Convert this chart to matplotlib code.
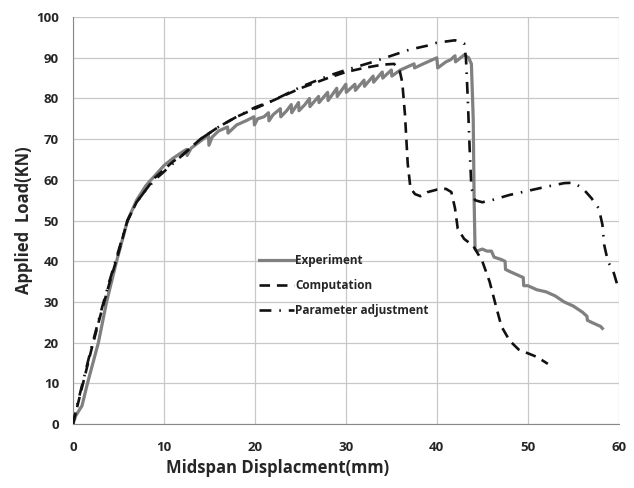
import matplotlib
matplotlib.use("Agg")
import matplotlib.pyplot as plt

# Experiment (gray solid, with the small load drops)
exp_x = [0, 0.3, 1, 1.6, 2.2, 2.8, 3.7, 4.8, 6, 7, 8, 8.5, 9, 10, 11, 12, 12.5, 12.55, 13, 14,
         14.9, 14.95, 15.3, 16, 17, 17.05, 18, 19, 19.9, 19.95, 20.3, 21, 21.5, 21.55, 22,
         22.8, 22.85, 23.5, 24, 24.05, 24.8, 24.85, 25.5, 26, 26.05, 27, 27.05, 28, 28.05,
         29, 29.05, 30, 30.05, 31, 31.05, 32, 32.05, 33, 33.05, 34, 34.05, 35, 35.05, 36,
         37, 37.5, 37.55, 38.5, 39, 40, 40.1, 41, 41.5, 42, 42.05, 43, 43.5, 43.8, 44.0,
         44.1, 44.2, 44.4, 45, 45.5, 46, 46.3, 47, 47.5, 47.55, 48, 49, 49.5, 49.55, 50,
         51, 52, 53, 54, 55, 56, 56.5, 56.55, 57, 57.5, 58, 58.2]
exp_y = [0, 2, 4.5, 10, 15, 20, 30, 40, 50, 55, 58.5, 59.8, 61, 63.5, 65.3, 66.8, 67.5, 66, 67.8, 69.5,
         71, 68.5, 70.5, 72, 73, 71.5, 73.5, 74.5, 75.5, 73.5, 75, 75.5, 76.5, 74.5, 76,
         77.5, 75.5, 77, 78.5, 76.5, 79, 77, 78.5, 80, 78, 80.5, 79, 81.5, 79.5,
         82.5, 80.5, 83.5, 81.5, 83.5, 82, 84.5, 83, 85.5, 84, 86.5, 85, 87, 85.5, 87,
         88, 88.5, 87.5, 88.5, 89, 90, 87.5, 89, 89.5, 90.5, 89, 90.7, 90, 88.5, 75,
         55, 43, 42.5, 43, 42.5, 42.5, 41, 40.5, 40, 38, 37.5, 36.5, 36, 34, 34,
         33, 32.5, 31.5, 30, 29, 27.5, 26.5, 25.5, 25, 24.5, 24, 23.5]

# Computation (black dashed)
comp_x = [0, 0.5, 1, 2, 3, 4, 5, 6, 7, 8, 9, 10, 11, 12, 13, 14, 15, 16, 18, 20, 22, 25,
          28, 30, 32, 34, 35.3, 35.9, 36.2, 36.5, 36.8, 37.1, 37.6, 38.2, 39, 40, 41, 41.6,
          42, 42.3, 43, 44, 45, 45.8, 46.5, 47.1, 48, 49, 50, 51, 52.2]
comp_y = [0, 4.5, 9, 18, 26.5, 34.5, 42, 50, 54.5, 57.5, 60.5, 62.5, 64.5, 66, 68, 70, 71.5, 73,
          75.5, 77.5, 79.5, 82.5, 85, 86.5, 87.5, 88.3, 88.5, 87, 84, 76, 64, 58, 56.5, 56,
          57, 57.6, 57.8, 57, 53, 48, 45.5, 43.8, 40, 35, 29, 24, 20.5, 18.3, 17.4, 16.5, 14.8]

# Parameter adjustment (black dash-dot)
par_x = [0, 0.5, 1, 2, 3, 4, 5, 6, 7, 8, 9, 10, 11, 12, 13, 14, 15, 16, 18, 20, 22, 25, 28,
         30, 33, 35, 37, 39, 40, 41, 42, 43, 43.2, 43.4, 43.6, 43.8, 44.2, 45, 46, 48, 50,
         52, 54, 55, 56, 57, 57.8, 58.2, 58.4, 58.8, 59.4, 60]
par_y = [0, 5, 9.5, 18.5, 27, 35, 42.5, 50, 54.5, 57.5, 60, 62, 64, 66, 68, 70, 71.5, 73, 75.5,
         77.8, 79.5, 82.8, 85.5, 87, 89, 90.5, 92, 93, 93.7, 94, 94.3, 93.5, 90, 80, 68, 58,
         55, 54.5, 55, 56.3, 57.3, 58.3, 59.2, 59.3, 58, 55.5, 53, 49, 44, 40, 37.5, 33]

plt.rcParams['font.family'] = ['Open Sans', 'DejaVu Sans']
plt.rcParams['font.weight'] = 'bold'
txt = '#262626'

fig = plt.figure(figsize=(6.34, 4.88), dpi=100)
ax = fig.add_axes([0.115, 0.131, 0.861, 0.834])

ax.plot(exp_x, exp_y, color='#808080', lw=2.3, label='Experiment', zorder=3)
ax.plot(comp_x, comp_y, color='#111111', lw=1.9, linestyle=(0, (4, 2.6)),
        label='Computation', zorder=4)
ax.plot(par_x, par_y, color='#111111', lw=1.9, linestyle=(0, (4.5, 3, 0.6, 3)),
        label='Parameter adjustment', zorder=4)

ax.set_xlim(0, 60)
ax.set_ylim(0, 100)
ax.set_xticks(range(0, 61, 10))
ax.set_yticks(range(0, 101, 10))
ax.grid(True, color='#c8c8c8', lw=0.9)
ax.set_axisbelow(True)
for s in ['top', 'right']:
    ax.spines[s].set_visible(False)
for s in ['left', 'bottom']:
    ax.spines[s].set_color('#888888')
ax.tick_params(axis='x', length=0, labelsize=9.5, pad=12, labelcolor=txt)
ax.tick_params(axis='y', length=0, labelsize=9.5, pad=10, labelcolor=txt)
for lab in ax.get_xticklabels() + ax.get_yticklabels():
    lab.set_fontweight('bold')

ax.set_xlabel('Midspan Displacment(mm)', fontsize=12, fontweight='bold', color=txt)
ax.xaxis.set_label_coords(0.374, -0.085)
ax.set_ylabel('Applied  Load(KN)', fontsize=12, fontweight='bold', color=txt)
ax.yaxis.set_label_coords(-0.073, 0.5)

leg = ax.legend(loc='upper left', bbox_to_anchor=(0.322, 0.443), frameon=False,
                handlelength=2.9, handletextpad=0.15, labelspacing=1.0,
                prop={'weight': 'bold', 'size': 8.5})
for t in leg.get_texts():
    t.set_color(txt)

fig.savefig('out.png', dpi=100)
